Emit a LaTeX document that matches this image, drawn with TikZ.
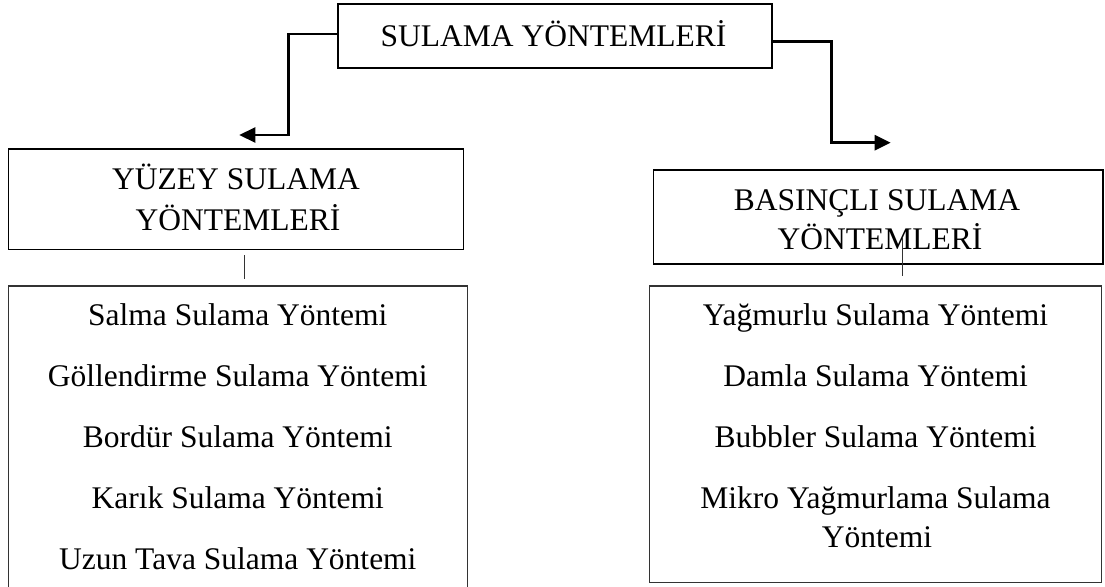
\documentclass[tikz,border=0pt]{standalone}
\usepackage{fontspec}
\setmainfont{Liberation Serif}
\usetikzlibrary{arrows.meta}
\begin{document}
\begin{tikzpicture}[x=1pt,y=-1pt,
  box/.style={draw=black,rectangle,inner sep=0pt,line width=#1},
  box/.default=1.4pt,
  lbl/.style={anchor=base,inner sep=0pt,font=\fontsize{31.5pt}{38pt}\selectfont},
  conn/.style={line width=2.6pt,black,-{Triangle[length=16pt,width=15pt]}},
  tick/.style={line width=1.3pt,black!80}]
\useasboundingbox (0,0) rectangle (1105,586);
\clip (0,0) rectangle (1105,586);
% boxes
\node[box=1.8pt,minimum width=434pt,minimum height=64.3pt] (top) at (554.7,36.15) {};
\node[box=1.6pt,minimum width=455pt,minimum height=100.3pt] (yuzey) at (235.8,199.15) {};
\node[box=1.2pt,minimum width=449.7pt,minimum height=94pt] (basincli) at (878.2,217) {};
\node[box=1.4pt,draw=black!80,minimum width=459pt,minimum height=314pt] (llist) at (237.8,443) {};
\node[box=1.4pt,draw=black!80,minimum width=452.4pt,minimum height=296.7pt] (rlist) at (875.5,434.35) {};
% texts
\node[lbl] (ttop) at (553.5,46.4) {SULAMA YÖNTEMLERİ};
\node[lbl] (ty1) at (236,189) {YÜZEY SULAMA};
\node[lbl] (ty2) at (238,230) {YÖNTEMLERİ};
\node[lbl] (tb1) at (877,210) {BASINÇLI SULAMA};
\node[lbl] (tb2) at (880,249.3) {YÖNTEMLERİ};
\node[lbl] (l1) at (237.8,325.7) {Salma Sulama Yöntemi};
\node[lbl] (l2) at (237.8,386.7) {Göllendirme Sulama Yöntemi};
\node[lbl] (l3) at (237.8,447.7) {Bordür Sulama Yöntemi};
\node[lbl] (l4) at (237.8,508.7) {Karık Sulama Yöntemi};
\node[lbl] (l5) at (237.8,569.3) {Uzun Tava Sulama Yöntemi};
\node[lbl] (r1) at (875.5,325.7) {Yağmurlu Sulama Yöntemi};
\node[lbl] (r2) at (875.5,386.7) {Damla Sulama Yöntemi};
\node[lbl] (r3) at (875.5,447.7) {Bubbler Sulama Yöntemi};
\node[lbl] (r4) at (875.5,508.3) {Mikro Yağmurlama Sulama};
\node[lbl] (r5) at (877,547.7) {Yöntemi};
% connectors
\coordinate (lmid) at (288.7,135);
\coordinate (ltip) at (239.3,135);
\coordinate (rmid) at (831.7,142.7);
\coordinate (rtip) at (890.7,142.7);
\draw[conn] ([yshift=2pt]top.west) -| (lmid) -- (ltip);
\draw[conn] ([yshift=-5.5pt]top.east) -| (rmid) -- (rtip);
% small ticks
\coordinate (ya) at (244.3,255);
\coordinate (yb) at (244.3,279.3);
\coordinate (ba) at (902.3,238.3);
\coordinate (bb) at (902.3,276);
\draw[tick] (ya) -- (yb);
\draw[tick] (ba) -- (bb);
\end{tikzpicture}
\end{document}
